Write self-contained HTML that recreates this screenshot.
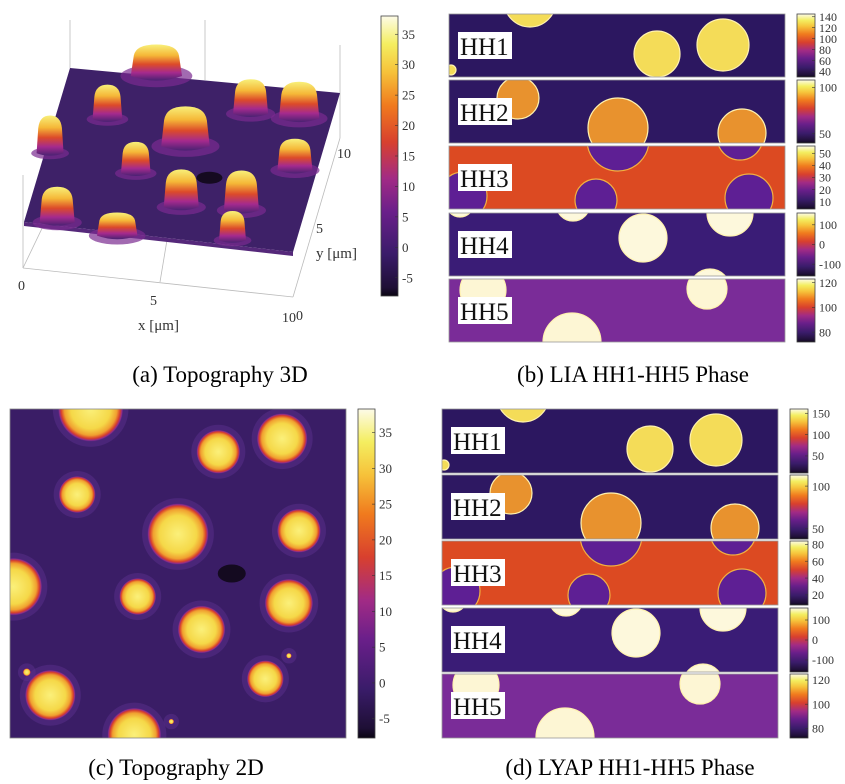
<!DOCTYPE html>
<html><head><meta charset="utf-8"><style>
body{margin:0;background:#fff;}
svg{display:block;font-family:"Liberation Serif",serif;}
</style></head><body>
<svg id="fig" width="845" height="784" viewBox="0 0 845 784">
<defs>
<linearGradient id="inferno" x1="0" y1="1" x2="0" y2="0">
<stop offset="0" stop-color="#0a0512"/><stop offset="0.03" stop-color="#1e0f35"/><stop offset="0.15" stop-color="#3a1c6a"/><stop offset="0.3" stop-color="#6a1f8a"/><stop offset="0.42" stop-color="#a22b85"/><stop offset="0.55" stop-color="#d8402e"/><stop offset="0.68" stop-color="#f07a1e"/><stop offset="0.8" stop-color="#f6c23a"/><stop offset="0.9" stop-color="#f4ee60"/><stop offset="1" stop-color="#fdfbe8"/>
</linearGradient>
<linearGradient id="dome" x1="0" y1="0" x2="0" y2="1">
<stop offset="0" stop-color="#f8f07a"/><stop offset="0.3" stop-color="#f5b838"/><stop offset="0.55" stop-color="#dc4a2a"/><stop offset="0.78" stop-color="#a52a8e"/><stop offset="1" stop-color="#4a2272"/>
</linearGradient>
<radialGradient id="part" cx="0.5" cy="0.5" r="0.5">
<stop offset="0" stop-color="#fbf07a"/><stop offset="0.6" stop-color="#f5d848"/><stop offset="0.8" stop-color="#f0a030"/><stop offset="0.9" stop-color="#d8402c"/><stop offset="0.96" stop-color="#8a2a90"/><stop offset="1" stop-color="#4a2478" stop-opacity="0"/>
</radialGradient>
<clipPath id="clipC"><rect x="10" y="409" width="336" height="329"/></clipPath>
</defs>
<g id="panelA"></g>
<g id="panelB"></g>
<g id="panelC"></g>
<g id="panelD"></g>
<text x="220" y="382" font-size="23" text-anchor="middle">(a) Topography 3D</text>
<text x="633" y="382" font-size="23" text-anchor="middle">(b) LIA HH1-HH5 Phase</text>
<text x="176" y="775" font-size="23" text-anchor="middle">(c) Topography 2D</text>
<text x="630" y="775" font-size="23" text-anchor="middle">(d) LYAP HH1-HH5 Phase</text>
</svg>
<script>
// ---- data ----
// topography colorbar ticks (nm)
const topoTicks = [35, 30, 25, 20, 15, 10, 5, 0, -5];
const topoMin = -8, topoMax = 38;
// 2D particles: x,y in µm (0..10), radius µm
const partX = [2.4, 6.2, 8.1, 2.0, 5.0, 8.6, 3.8, 8.3, 5.7, 7.6, 1.2, 3.7, 0.1, 0.5, 4.8, 8.3];
const partY = [0.0, 1.3, 0.9, 2.6, 3.8, 3.7, 5.7, 5.9, 6.7, 8.2, 8.7, 9.9, 5.4, 8.0, 9.5, 7.5];
const partR = [0.85, 0.57, 0.66, 0.48, 0.8, 0.57, 0.48, 0.63, 0.62, 0.48, 0.66, 0.7, 0.75, 0.1, 0.07, 0.07];
// 3D bumps: x,y in plane fractions, height nm
const bumpX = [0.32, 0.19, 0.5, 0.7, 0.88, 0.02, 0.35, 0.55, 0.92, 0.77, 0.12, 0.77, 0.35];
const bumpY = [0.0, 0.3, 0.42, 0.18, 0.18, 0.55, 0.62, 0.8, 0.5, 0.78, 0.98, 0.97, 1.02];
const bumpH = [30, 33, 38, 33, 35, 36, 30, 36, 30, 38, 34, 28, 22];
const bumpW = [0.19, 0.11, 0.18, 0.13, 0.15, 0.1, 0.11, 0.13, 0.13, 0.13, 0.13, 0.1, 0.15];
// phase strips: names, colours, particles (x,y,r in strip px)
const stripNames = ["HH1", "HH2", "HH3", "HH4", "HH5"];
const stripBg = ["#2c1760", "#2e1862", "#dc4a22", "#3a1c76", "#7a2c98"];
const stripFg = ["#f4dc58", "#e8922e", "#5e1f94", "#fdf8dc", "#fdf6d4"];
const stripCircles = [
  [[81,-13,26],[208,40,23],[274,31,26],[2,56,5]],
  [[69,18,21],[169,48,30],[293,53,24]],
  [[169,-6,31],[291,-9,23],[147,54,21],[300,52,24],[14,50,24]],
  [[124,-9,17],[194,25,24],[281,0,23],[261,76,20],[11,-10,14]],
  [[34,11,23],[258,10,20],[123,63,29]]
];
const bTicks = [[140,120,100,80,60,40],[100,50],[50,40,30,20,10],[100,0,-100],[120,100,80]];
const bRange = [[30,145],[40,108],[4,56],[-160,160],[72,123]];
const dTicks = [[150,100,50],[100,50],[80,60,40,20],[100,0,-100],[120,100,80]];
const dRange = [[10,160],[38,113],[8,84],[-160,160],[72,125]];

const NS = "http://www.w3.org/2000/svg";
function mk(tag, attrs, parent){const e=document.createElementNS(NS,tag);for(const k in attrs)e.setAttribute(k,attrs[k]);parent.appendChild(e);return e;}

function colorbar(parent, x, y, w, h, ticks, vmin, vmax, fs, name){
  const g = mk('g', {}, parent);
  
  
  mk('rect', {x:x, y:y, width:w, height:h, fill:'url(#inferno)', stroke:'#444', 'stroke-width':0.8}, g);
  ticks.forEach(t=>{
    const ty = y + h - (t - vmin)/(vmax - vmin)*h;
    mk('line', {x1:x+w-3, x2:x+w, y1:ty, y2:ty, stroke:'#333', 'stroke-width':0.6}, g);
    const tx = mk('text', {x:x+w+4, y:ty+fs*0.35, 'font-size':fs, fill:'#333'}, g);
    tx.textContent = t;
    
    
  });
}

// ---- panel A (3D) ----
const A = document.getElementById('panelA');
const P = {bl:[70,68], br:[340,93], fr:[293,252], fl:[24,222]};
function planePt(u,v){ // u along x (left->right), v back->front
  const bx = P.bl[0]+(P.br[0]-P.bl[0])*u, by = P.bl[1]+(P.br[1]-P.bl[1])*u;
  const fx = P.fl[0]+(P.fr[0]-P.fl[0])*u, fy = P.fl[1]+(P.fr[1]-P.fl[1])*u;
  return [bx+(fx-bx)*v, by+(fy-by)*v];
}
// axes/box lines
[[70,20,70,68],[205,20,205,80],[340,45,340,138],[23,175,23,268],[23,268,293,297],[293,297,340,138],[23,268,70,170],[160,282,170,222]].forEach(l=>{
  const ln = mk('line',{x1:l[0],y1:l[1],x2:l[2],y2:l[3],stroke:'#bbb','stroke-width':0.8},A);
  
  
});
const plane = mk('polygon',{points:[P.bl,P.br,P.fr,P.fl].map(p=>p.join(',')).join(' '),fill:'#3e2168'},A);


mk('polygon',{points:'24,222 293,252 293,256 24,226',fill:'#55287a'},A);
// dark pit
const pit = planePt(0.62,0.6);
mk('ellipse',{cx:pit[0],cy:pit[1],rx:13,ry:6,fill:'#150a20'},A);
const hScale = 1.05;
const order = bumpY.map((v,i)=>i).sort((a,b)=>bumpY[a]-bumpY[b]);
order.forEach(i=>{
  const base = planePt(bumpX[i], bumpY[i]);
  const w = bumpW[i]*270, h = bumpH[i]*hScale;
  const cx = base[0], by = base[1], top = by - h;
  mk('ellipse',{cx:cx,cy:by,rx:w*0.7,ry:w*0.22,fill:'#7a2b90',opacity:0.7},A);
  const d = `M${cx-w/2},${by} L${cx-w*0.44},${top+h*0.35} Q${cx-w*0.4},${top} ${cx},${top} Q${cx+w*0.4},${top} ${cx+w*0.44},${top+h*0.35} L${cx+w/2},${by} Q${cx},${by+w*0.18} ${cx-w/2},${by} Z`;
  const b = mk('path',{d:d,fill:'url(#dome)'},A);
  
  
});
[['0',18,290],['5',150,305],['10',282,322],['0',296,320],['5',316,233],['10',337,158]].forEach(t=>{
  const tx = mk('text',{x:t[1],y:t[2],'font-size':14,fill:'#333'},A);
  tx.textContent=t[0];
  
  
});
const xl = mk('text',{x:138,y:330,'font-size':15,fill:'#333'},A); xl.textContent='x [\u03bcm]';
 
const yl = mk('text',{x:316,y:258,'font-size':15,fill:'#333'},A); yl.textContent='y [\u03bcm]';
 
colorbar(A, 381, 16, 17, 280, topoTicks, topoMin, topoMax, 13, 'topography-3d-colorbar');

// ---- panel C (2D) ----
const C = document.getElementById('panelC');
const cx0=10, cy0=409, cw=336, ch=329;
const xs = v=>cx0+v/10*cw, ys=v=>cy0+v/10*ch, rs=v=>v/10*cw;
const cg = mk('g',{'clip-path':'url(#clipC)'},C);
const bg = mk('rect',{x:cx0,y:cy0,width:cw,height:ch,fill:'#3a1d66'},cg);


mk('ellipse',{cx:xs(6.6),cy:ys(5.0),rx:14,ry:9,fill:'#140a20'},cg);
partX.forEach((px,i)=>{
  const r = rs(partR[i])*1.15;
  mk('circle',{cx:xs(px),cy:ys(partY[i]),r:r+5,fill:'#5a2f8c',opacity:0.5},cg);
  const c = mk('circle',{cx:xs(px),cy:ys(partY[i]),r:r,fill:'url(#part)'},cg);
  
  
});
mk('rect',{x:cx0,y:cy0,width:cw,height:ch,fill:'none',stroke:'#888','stroke-width':0.8},C);
colorbar(C, 358, 409, 17, 329, topoTicks, topoMin+0.3, topoMax+0.3, 13, 'topography-2d-colorbar');

// ---- phase strips ----
function strips(parent, x0, ys0, w, h, cbx, ticks, ranges, id){
  stripNames.forEach((nm,k)=>{
    const y0 = ys0[k];
    const g = mk('g',{},parent);
    
    
    const cp = mk('clipPath',{id:id+k},g);
    mk('rect',{x:x0,y:y0,width:w,height:h},cp);
    const inner = mk('g',{'clip-path':`url(#${id+k})`},g);
    mk('rect',{x:x0,y:y0,width:w,height:h,fill:stripBg[k]},inner);
    stripCircles[k].forEach(c=>{
      const el = mk('circle',{cx:x0+c[0],cy:y0+c[1],r:c[2],fill:stripFg[k],stroke:k==2?'#f2b040':'#fff2b0','stroke-width':1.2},inner);
      
      
    });
    mk('rect',{x:x0,y:y0,width:w,height:h,fill:'none',stroke:'#999','stroke-width':0.8},g);
    const lb = mk('rect',{x:x0+9,y:y0+18,width:54,height:27,fill:'#fff'},g);
    
    
    const t = mk('text',{x:x0+11,y:y0+41,'font-size':25,fill:'#111'},g);
    t.textContent = nm;
    
    
    colorbar(parent, cbx, y0, 18, h, ticks[k], ranges[k][0], ranges[k][1], 12, 'strip-colorbar-'+nm.toLowerCase());
  });
}
strips(document.getElementById('panelB'), 449, [14,80,146,213,279], 336, 63, 797, bTicks, bRange, 'cb');
strips(document.getElementById('panelD'), 442, [409,475,541,608,674], 336, 64, 790, dTicks, dRange, 'cd');
</script>
</body></html>
